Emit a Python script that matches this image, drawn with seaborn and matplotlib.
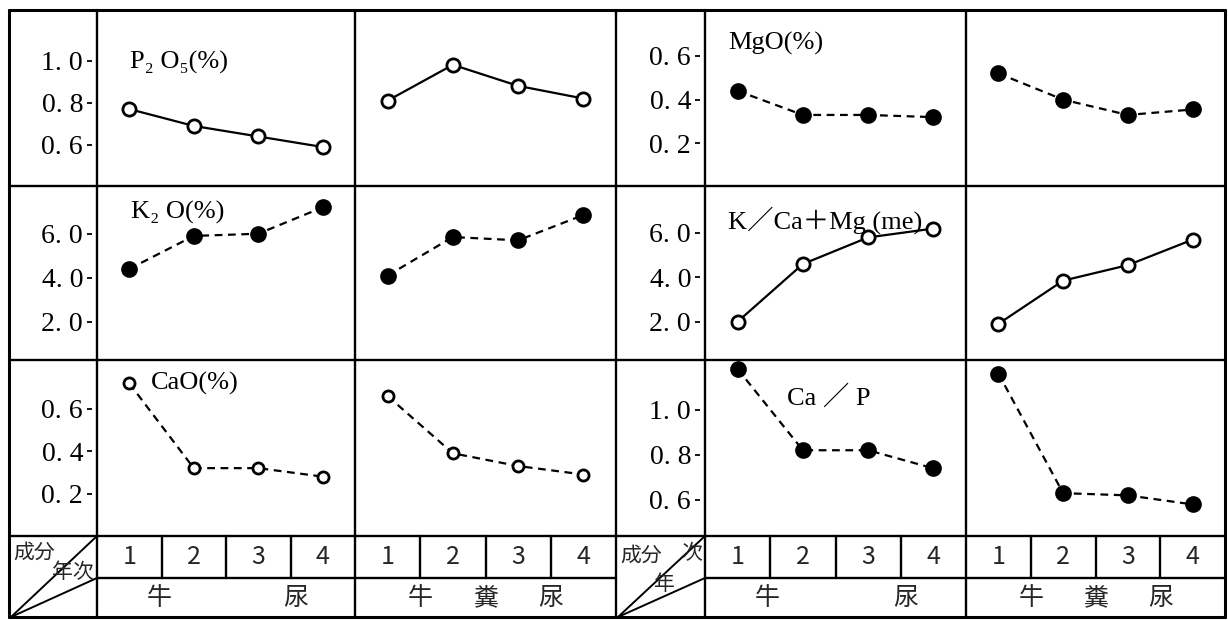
import numpy as np
import pandas as pd
import matplotlib
matplotlib.use("Agg")
import matplotlib.pyplot as plt
import seaborn as sns

# data
years = [1, 2, 3, 4]

p2o5_urine = [0.77, 0.69, 0.64, 0.59]
p2o5_slurry = [0.81, 0.98, 0.88, 0.82]
k2o_urine = [4.4, 5.9, 6.0, 7.2]
k2o_slurry = [4.1, 5.85, 5.7, 6.85]
cao_urine = [0.72, 0.32, 0.32, 0.28]
cao_slurry = [0.66, 0.39, 0.33, 0.29]

mgo_urine = [0.44, 0.33, 0.33, 0.32]
mgo_slurry = [0.52, 0.40, 0.33, 0.355]
kcamg_urine = [2.0, 4.6, 5.8, 6.2]
kcamg_slurry = [1.9, 3.85, 4.55, 5.7]
cap_urine = [1.18, 0.82, 0.82, 0.74]
cap_slurry = [1.16, 0.63, 0.62, 0.58]

titles = ["P₂ O₅(%)", "K₂ O(%)", "CaO(%)", "MgO(%)", "K／Ca＋Mg (me)", "Ca ／ P"]
ticks_p2o5 = [0.6, 0.8, 1.0]
labels_p2o5 = ["0. 6", "0. 8", "1. 0"]
ticks_k = [2.0, 4.0, 6.0]
labels_k = ["2. 0", "4. 0", "6. 0"]
ticks_low = [0.2, 0.4, 0.6]
labels_low = ["0. 2", "0. 4", "0. 6"]
ticks_cap = [0.6, 0.8, 1.0]
labels_cap = ["0. 6", "0. 8", "1. 0"]

year_labels = ["1", "2", "3", "4"]
urine_label = ["牛", "尿"]
slurry_label = ["牛", "糞", "尿"]
corner_top = "成分"
corner_bottom = "年次"

sns.set_theme(style="white")
plt.rcParams["font.family"] = ["Liberation Serif", "DejaVu Serif", "Noto Sans CJK JP"]
cjk = ["Noto Sans CJK JP", "DejaVu Sans"]

W, H = 1228, 620
fig = plt.figure(figsize=(W / 100, H / 100), dpi=100)

# background axes in pixel coords for the table frame
bg = fig.add_axes([0, 0, 1, 1])
bg.set_xlim(0, W)
bg.set_ylim(H, 0)
bg.axis("off")

top, bottom = 10, 617
rows = [10, 186, 360, 536]
num_bottom = 578
left_x = [9, 97, 355, 616]     # label col, urine, slurry
right_x = [616, 705, 966, 1225]

lw = 1.7
for x in [9, 97, 355, 616, 705, 966, 1225]:
    bg.plot([x, x], [top, bottom], color="black", lw=lw if x not in (9, 1225) else 2.2)
for y in rows:
    bg.plot([9, 1225], [y, y], color="black", lw=lw if y != 10 else 2.2)
bg.plot([9, 1225], [bottom, bottom], color="black", lw=2.2)
bg.plot([97, 616], [num_bottom, num_bottom], color="black", lw=lw)
bg.plot([705, 1225], [num_bottom, num_bottom], color="black", lw=lw)

panels_x = [(97, 355), (355, 616), (705, 966), (966, 1225)]
for i, (x0, x1) in enumerate(panels_x):
    w = (x1 - x0) / 4
    for k in range(1, 4):
        bg.plot([x0 + w * k, x0 + w * k], [536, num_bottom], color="black", lw=lw)
    for k, lab in enumerate(year_labels):
        bg.text(x0 + w * (k + 0.5), 557, lab, ha="center", va="center",
                fontsize=18, family=cjk)
    if i % 2 == 0:
        for frac, ch in zip([0.24, 0.77], urine_label):
            bg.text(x0 + (x1 - x0) * frac, 598, ch, ha="center", va="center",
                    fontsize=18, family=cjk)
    else:
        for frac, ch in zip([0.25, 0.5, 0.75], slurry_label):
            bg.text(x0 + (x1 - x0) * frac, 598, ch, ha="center", va="center",
                    fontsize=18, family=cjk)

# corner cells with diagonals
for (x0, x1) in [(9, 97), (616, 705)]:
    bg.plot([x0 + 2, x1], [bottom, 536], color="black", lw=1.4)
    bg.plot([x0 + 2, x1], [bottom, num_bottom], color="black", lw=1.4)
bg.text(13, 553, corner_top, ha="left", va="center", fontsize=15, family=cjk)
bg.text(94, 572, corner_bottom, ha="right", va="center", fontsize=15, family=cjk)
bg.text(620, 556, corner_top, ha="left", va="center", fontsize=15, family=cjk)
bg.text(702, 553, corner_bottom[1], ha="right", va="center", fontsize=15, family=cjk)
bg.text(664, 584, corner_bottom[0], ha="center", va="center", fontsize=15, family=cjk)

# panel definitions: (group, row, urine, slurry, ylim, ticks, labels, filled, dashed, ms)
panels = [
    (0, 0, p2o5_urine, p2o5_slurry, (0.405, 1.24), ticks_p2o5, labels_p2o5, False, False, 9.5),
    (0, 1, k2o_urine, k2o_slurry, (0.26, 8.17), ticks_k, labels_k, True, True, 10),
    (0, 2, cao_urine, cao_slurry, (0.0, 0.83), ticks_low, labels_low, False, True, 8),
    (1, 0, mgo_urine, mgo_slurry, (0.005, 0.81), ticks_low, labels_low, True, True, 10),
    (1, 1, kcamg_urine, kcamg_slurry, (0.27, 8.12), ticks_k, labels_k, False, False, 9.5),
    (1, 2, cap_urine, cap_slurry, (0.44, 1.22), ticks_cap, labels_cap, True, True, 10),
]
title_pos = [(130, 62), (131, 212), (151, 383), (728, 43), (728, 220), (787, 397)]


def rect(x0, x1, y0, y1):
    return [x0 / W, 1 - y1 / H, (x1 - x0) / W, (y1 - y0) / H]


for n, (g, r, urine, slurry, ylim, ticks, labels, filled, dashed, ms) in enumerate(panels):
    y0, y1 = rows[r], rows[r + 1]
    xs = left_x if g == 0 else right_x
    for j, vals in enumerate([urine, slurry]):
        ax = fig.add_axes(rect(xs[j + 1], xs[j + 2], y0, y1))
        ax.set_facecolor("none")
        df = pd.DataFrame({"年次": years, "value": vals})
        sns.lineplot(data=df, x="年次", y="value", ax=ax, color="black",
                     marker="o", markersize=ms, lw=1.6,
                     linestyle=(0, (3.5, 2.5)) if dashed else "-",
                     markerfacecolor="black" if filled else "white",
                     markeredgecolor="black", markeredgewidth=2.0,
                     clip_on=False, legend=False)
        ax.set_xlim(0.5, 4.5)
        ax.set_ylim(*ylim)
        ax.set_xticks([])
        ax.set_xlabel("")
        ax.set_ylabel("")
        for s in ax.spines.values():
            s.set_visible(False)
        if j == 0:
            ax.set_yticks(ticks)
            ax.set_yticklabels(labels)
            ax.spines["left"].set_position(("outward", 3.5))
            ax.tick_params(axis="y", direction="out", length=3.5, width=1.3,
                           pad=3, labelsize=20, left=True, colors="black")
        else:
            ax.set_yticks([])
    bg.text(title_pos[n][0], title_pos[n][1], titles[n], ha="left", va="center",
            fontsize=19, color="black")

fig.savefig("out.png", dpi=100)
